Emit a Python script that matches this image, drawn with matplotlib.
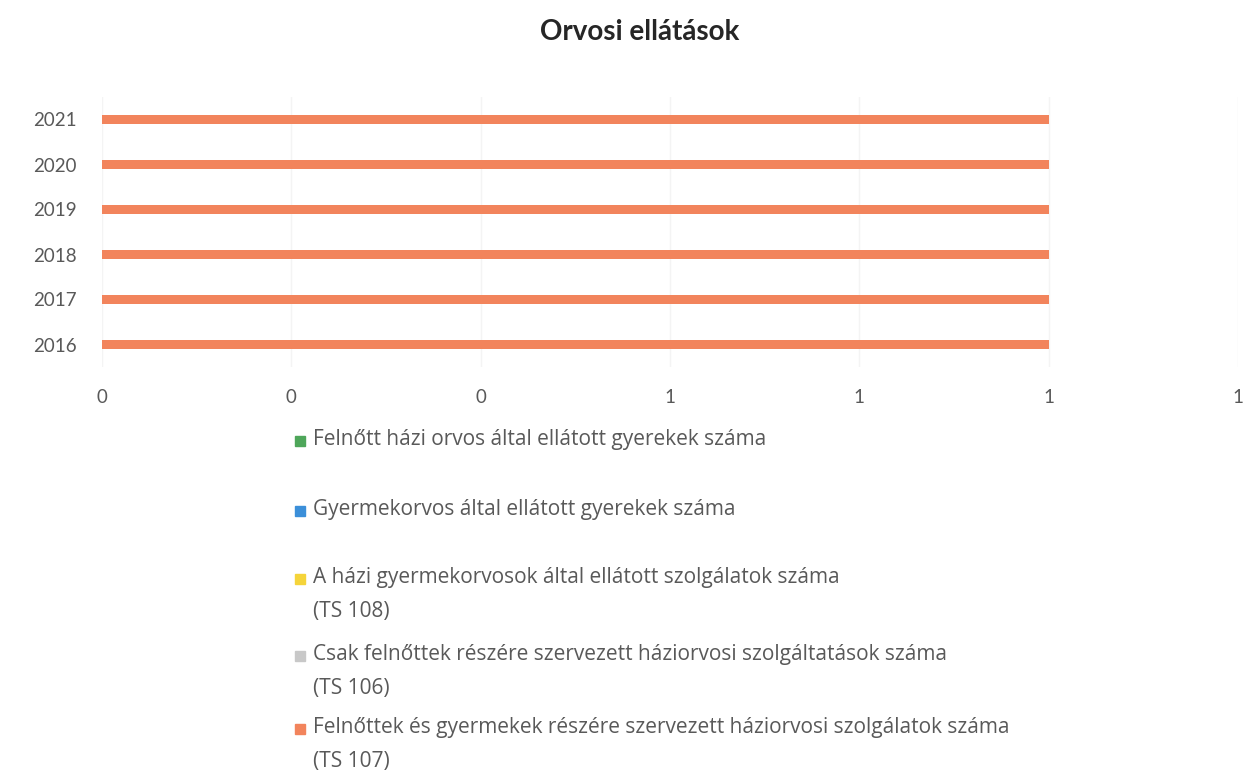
import matplotlib
matplotlib.use("Agg")
import matplotlib.pyplot as plt
from matplotlib.ticker import FuncFormatter, MultipleLocator
from matplotlib.patches import Rectangle

plt.rcParams['font.family'] = ['Lato', 'DejaVu Sans']

years = ["2016", "2017", "2018", "2019", "2020", "2021"]
series_names = [
    "Felnőtt házi orvos által ellátott gyerekek száma",
    "Gyermekorvos által ellátott gyerekek száma",
    "A házi gyermekorvosok által ellátott szolgálatok száma\n(TS 108)",
    "Csak felnőttek részére szervezett háziorvosi szolgáltatások száma\n(TS 106)",
    "Felnőttek és gyermekek részére szervezett háziorvosi szolgálatok száma\n(TS 107)",
]
felnott_hazi = [0, 0, 0, 0, 0, 0]
gyermekorvos = [0, 0, 0, 0, 0, 0]
ts108 = [0, 0, 0, 0, 0, 0]
ts106 = [0, 0, 0, 0, 0, 0]
ts107 = [1, 1, 1, 1, 1, 1]
values = [felnott_hazi, gyermekorvos, ts108, ts106, ts107]
colors = ["#4EA65A", "#3B8FD9", "#F5D43A", "#C8C8C8", "#F2845C"]

W, H = 1245, 773
fig = plt.figure(figsize=(W / 100, H / 100), dpi=100)
ax = fig.add_axes([102 / W, 1 - 367 / H, (1238 - 102) / W, (367 - 97) / H])

left = [0] * len(years)
for vals, c in zip(values, colors):
    ax.barh(range(len(years)), vals, left=left, height=0.18, color=c, zorder=3)
    left = [a + b for a, b in zip(left, vals)]

ax.set_xlim(0, 1.2)
ax.set_ylim(-0.5, len(years) - 0.5)
ax.set_yticks(range(len(years)))
ax.set_yticklabels(years)
ax.xaxis.set_major_locator(MultipleLocator(0.2))
ax.xaxis.set_major_formatter(FuncFormatter(lambda x, p: f"{x:.0f}"))
ax.grid(axis="x", color="#F4F4F4", linewidth=1, zorder=0)
for s in ax.spines.values():
    s.set_visible(False)
ax.tick_params(axis="both", length=0, labelsize=13.5, colors="#595959")
ax.tick_params(axis="y", pad=18)
ax.tick_params(axis="x", pad=16)

fig.text(640 / W, 1 - 32 / H, "Orvosi ellátások", ha="center", va="center",
         fontsize=20, fontweight="bold", color="#262626")

# legend
legend_y = [440, 510, 578, 655, 728]
for name, c, y in zip(series_names, colors, legend_y):
    fig.add_artist(Rectangle((295 / W, 1 - (y + 6) / H), 10 / W, 10 / H,
                             transform=fig.transFigure, color=c))
    fig.text(313 / W, 1 - (y - 11) / H, name, ha="left", va="top",
             fontsize=15, color="#595959", linespacing=1.8,
             family=['Open Sans', 'DejaVu Sans'])

fig.savefig("out.png", dpi=100, facecolor="white")
